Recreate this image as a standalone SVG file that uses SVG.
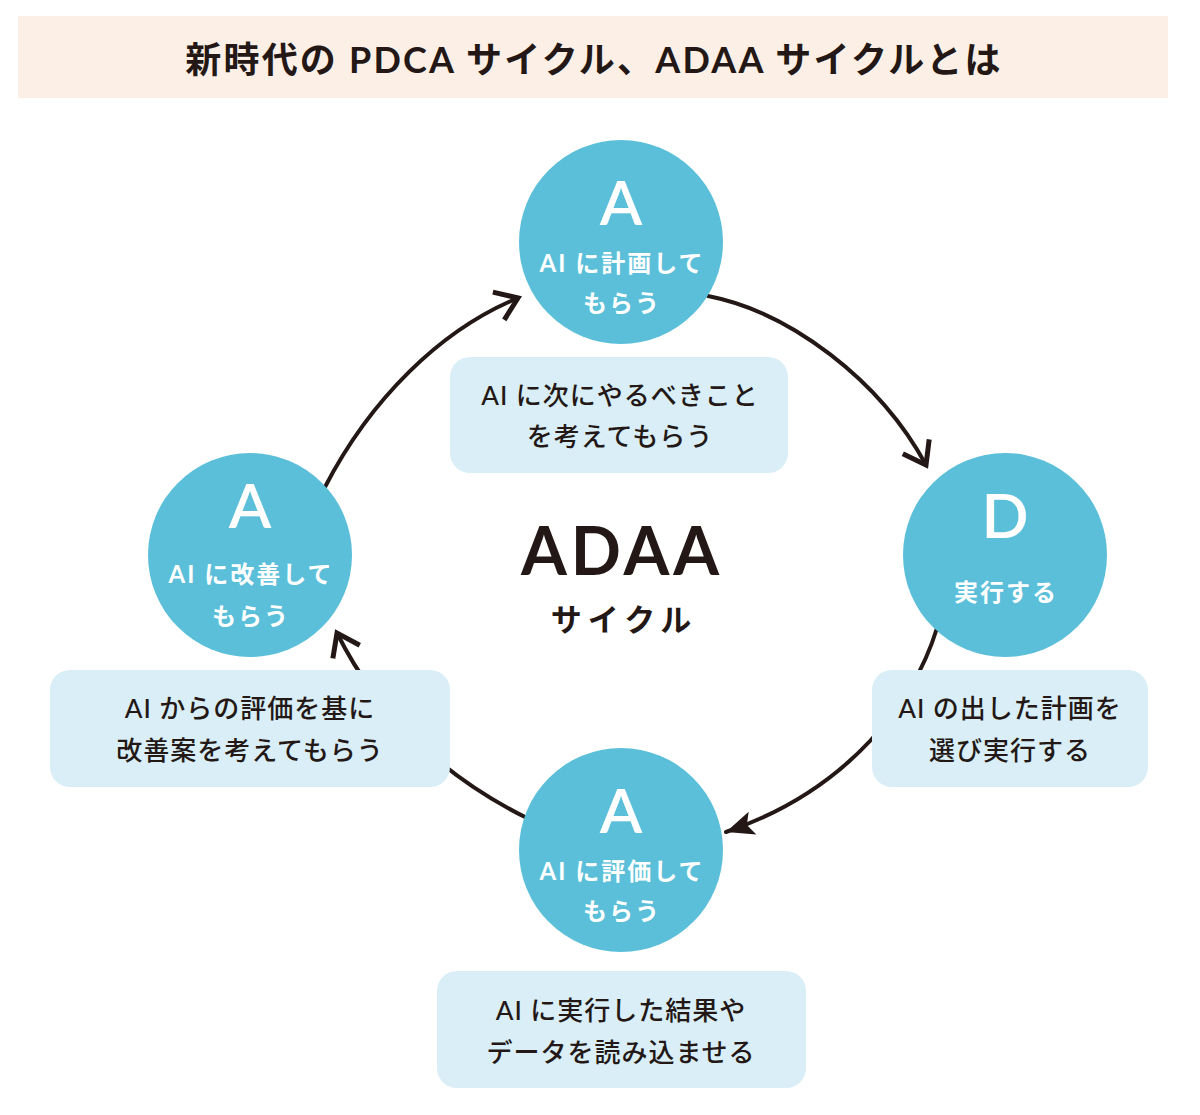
<svg xmlns="http://www.w3.org/2000/svg" width="1200" height="1115" viewBox="0 0 1200 1115">
<style>
.circ{fill:#5bbfda}
.box{fill:#d9eef6}
.big{font-family:Lato,"Noto Sans CJK JP",sans-serif;font-size:62px;fill:#ffffff;text-anchor:middle;font-weight:600}
.cl{font-family:Lato,"Noto Sans CJK JP",sans-serif;font-size:24px;fill:#ffffff;font-weight:700;letter-spacing:2px;text-anchor:middle}
.bt{font-family:Lato,"Noto Sans CJK JP",sans-serif;font-size:26px;fill:#231815;letter-spacing:1px;text-anchor:middle;font-weight:500}
.arc{fill:none;stroke:#231815;stroke-width:4;stroke-linecap:round}
</style>
<defs>
<marker id="chev" markerUnits="userSpaceOnUse" markerWidth="40" markerHeight="40" refX="0" refY="0" viewBox="-30 -20 40 40" orient="auto" overflow="visible">
<path d="M-21,-15 L0,0 L-21,15" fill="none" stroke="#231815" stroke-width="5" stroke-linejoin="miter" stroke-linecap="butt"/>
</marker>
<marker id="tri" markerUnits="userSpaceOnUse" markerWidth="40" markerHeight="40" refX="0" refY="0" viewBox="-30 -20 40 40" orient="auto" overflow="visible">
<path d="M0,0 L-28,-12 L-22,0 L-28,12 Z" fill="#231815"/>
</marker>
</defs>
<rect width="1200" height="1115" fill="#ffffff"/>
<g id="title">
<rect x="18" y="16" width="1150" height="82" fill="#fcefe6"/>
<text x="594" y="73" font-family="Lato,'Noto Sans CJK JP',sans-serif" font-size="36" font-weight="700" fill="#231815" text-anchor="middle" letter-spacing="2.2">新時代の PDCA サイクル、ADAA サイクルとは</text>
</g>
<g id="connectors">
<path class="arc" d="M325,487 C370,400 440,330 518,298" marker-end="url(#chev)"/>
<path class="arc" d="M708,296 C790,312 880,380 926,465" marker-end="url(#chev)"/>
<path class="arc" d="M937,628 C915,700 850,790 726,832" marker-end="url(#tri)"/>
<path class="arc" d="M527,818 C450,780 380,720 337,633" marker-end="url(#chev)"/>
</g>
<g id="center-label">
<text x="622" y="575" font-family="Lato,sans-serif" font-size="66" font-weight="700" fill="#231815" text-anchor="middle" letter-spacing="4">ADAA</text>
<text x="624" y="631" font-family="'Noto Sans CJK JP',sans-serif" font-size="31" font-weight="700" fill="#231815" text-anchor="middle" letter-spacing="6">サイクル</text>
</g>
<g id="node-plan">
<circle class="circ" cx="621" cy="242" r="102"/>
<text class="big" x="621" y="225">A</text>
<text class="cl" x="622" y="272">AI に計画して</text>
<text class="cl" x="622" y="312">もらう</text>
</g>
<g id="note-plan">
<rect class="box" x="450" y="357" width="338" height="116" rx="20"/>
<text class="bt" x="620" y="405">AI に次にやるべきこと</text>
<text class="bt" x="620" y="446">を考えてもらう</text>
</g>
<g id="node-do">
<circle class="circ" cx="1005" cy="555" r="102"/>
<text class="big" x="1005" y="538">D</text>
<text class="cl" x="1006" y="601">実行する</text>
</g>
<g id="note-do">
<rect class="box" x="872" y="670" width="276" height="117" rx="20"/>
<text class="bt" x="1010" y="718">AI の出した計画を</text>
<text class="bt" x="1010" y="760">選び実行する</text>
</g>
<g id="node-evaluate">
<circle class="circ" cx="621" cy="850" r="102"/>
<text class="big" x="621" y="833">A</text>
<text class="cl" x="622" y="880">AI に評価して</text>
<text class="cl" x="622" y="920">もらう</text>
</g>
<g id="note-evaluate">
<rect class="box" x="437" y="971" width="369" height="117" rx="20"/>
<text class="bt" x="621" y="1020">AI に実行した結果や</text>
<text class="bt" x="621" y="1062">データを読み込ませる</text>
</g>
<g id="node-improve">
<circle class="circ" cx="250" cy="555" r="102"/>
<text class="big" x="250" y="528">A</text>
<text class="cl" x="251" y="583">AI に改善して</text>
<text class="cl" x="251" y="625">もらう</text>
</g>
<g id="note-improve">
<rect class="box" x="50" y="670" width="400" height="117" rx="20"/>
<text class="bt" x="250" y="718">AI からの評価を基に</text>
<text class="bt" x="250" y="760">改善案を考えてもらう</text>
</g>
</svg>
